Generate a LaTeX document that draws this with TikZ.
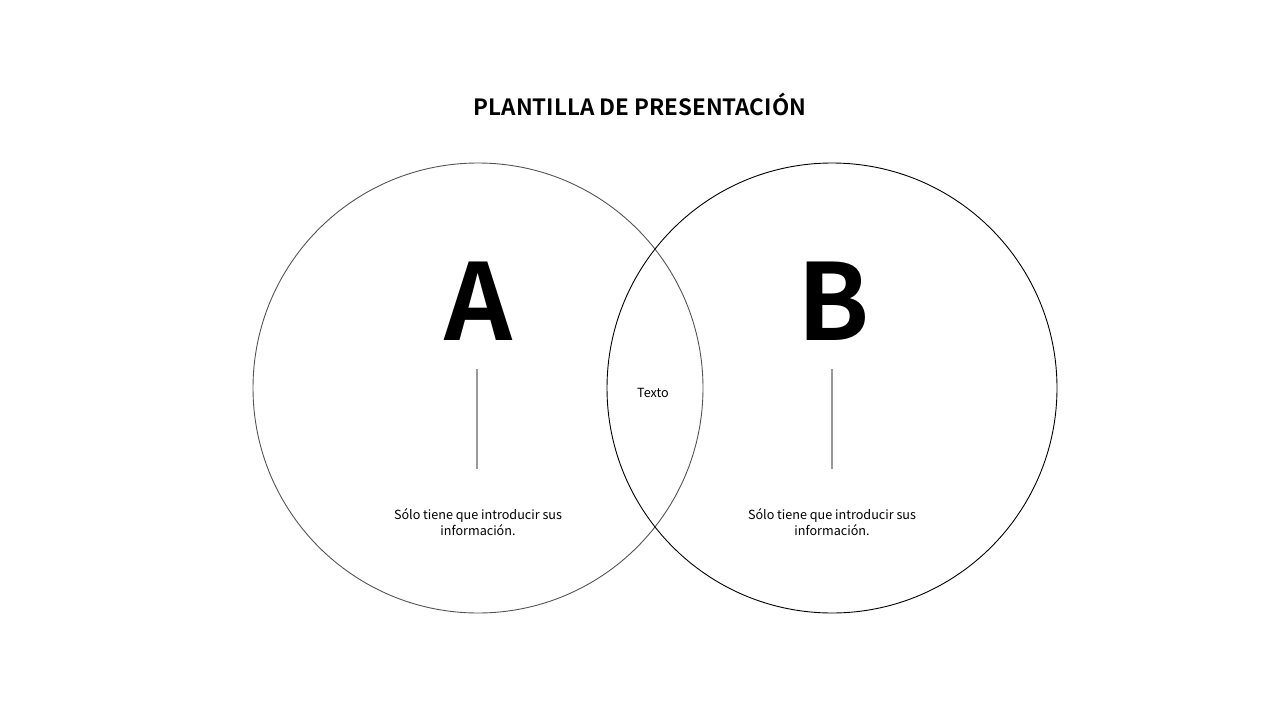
\documentclass[tikz,border=0pt]{standalone}
\usepackage{fontspec}
\setmainfont{Noto Sans CJK JP}[BoldFont={Noto Sans CJK JP Bold}]
\usepackage{tikz}
\usetikzlibrary{positioning}
\definecolor{ringgray}{rgb}{0.33, 0.33, 0.33}
\definecolor{stemgray}{rgb}{0.6, 0.6, 0.6}

\tikzset{
	ring/.style={draw=#1, line width=0.9pt},
	bigletter/.style={font=\fontsize{106}{110}\selectfont\bfseries, inner sep=0pt},
	stem/.style={draw=stemgray, line width=1.3pt},
	info/.style={font=\fontsize{12.6}{16}\selectfont, align=center, inner sep=0pt}
}

\begin{document}
\begin{tikzpicture}[x=1pt, y=-1pt]
	\useasboundingbox (0,0) rectangle (1280,720);
	\node[font=\fontsize{22.4}{26}\selectfont\bfseries] (title) at (640,104) {PLANTILLA DE PRESENTACIÓN};
	
	\draw[ring=ringgray] (478,388) circle (225);
	\draw[ring=black] (832,388) circle (225);
	
	\node[bigletter] (letterA) at (478,301) {A};
	\node[bigletter] (letterB) at (834,301) {B};
	
	\coordinate (stemAtop) at (477,369);
	\coordinate (stemAbot) at (477,469);
	\coordinate (stemBtop) at (832,369);
	\coordinate (stemBbot) at (832,469);
	\draw[stem] (stemAtop) -- (stemAbot);
	\draw[stem] (stemBtop) -- (stemBbot);
	
	\node[info] (infoA) at (478,522) {Sólo tiene que introducir sus\\información.};
	\node[info] (infoB) at (832,522) {Sólo tiene que introducir sus\\información.};
	
	\node[font=\fontsize{12.6}{16}\selectfont] (overlap) at (653,393) {Texto};
\end{tikzpicture}
\end{document}
